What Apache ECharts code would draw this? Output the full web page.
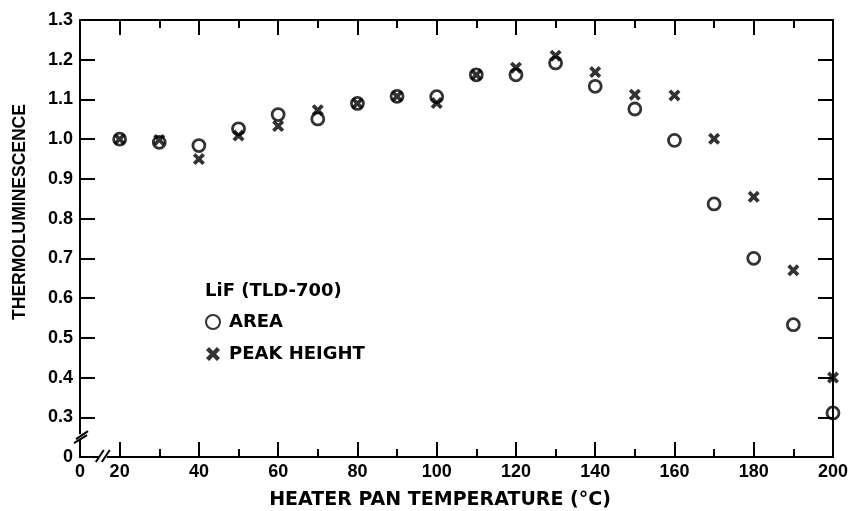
<!DOCTYPE html>
<html><head><meta charset="utf-8">
<script src="https://cdn.jsdelivr.net/npm/echarts@6/dist/echarts.min.js"></script>
<style>html,body{margin:0;padding:0;background:#fff}#c{width:851px;height:511px}</style>
</head><body><div id="c"></div>
<script>
// ---- data ----
const temps = [20, 30, 40, 50, 60, 70, 80, 90, 100, 110, 120, 130, 140, 150, 160, 170, 180, 190, 200];
const areaValues = [1.00, 0.992, 0.984, 1.026, 1.062, 1.051, 1.09, 1.108, 1.107, 1.162, 1.162, 1.192, 1.133, 1.076, 0.997, 0.837, 0.70, 0.533, 0.311];
const peakValues = [1.00, 0.998, 0.95, 1.009, 1.033, 1.073, 1.09, 1.108, 1.091, 1.162, 1.18, 1.21, 1.169, 1.112, 1.110, 1.001, 0.855, 0.670, 0.40];
// broken axes: value 10 on x and 0.2 on y stand for the "0" origin
const xLabelValues = [10, 20, 40, 60, 80, 100, 120, 140, 160, 180, 200];
const xMajorTicks = [20, 40, 60, 80, 100, 120, 140, 160, 180];
const xMinorTicks = [30, 50, 70, 90, 110, 130, 150, 170, 190];
const yLabelValues = [0.2, 0.3, 0.4, 0.5, 0.6, 0.7, 0.8, 0.9, 1.0, 1.1, 1.2, 1.3];
const yTickValues = [0.3, 0.4, 0.5, 0.6, 0.7, 0.8, 0.9, 1.0, 1.1, 1.2];
const seriesNames = ['AREA', 'PEAK HEIGHT'];
const legendHeader = 'LiF (TLD-700)';
const xTitle = 'HEATER PAN TEMPERATURE (°C)';
const yTitle = 'THERMOLUMINESCENCE';

const X_MIN = 10, X_MAX = 200, Y_MIN = 0.2, Y_MAX = 1.3;
const black = '#000';
const lblFont = { color: black, fontFamily: '"Liberation Sans", Arial, sans-serif', fontWeight: 'bold', fontSize: 18 };

function xAx(pos, ticks, len, showLine, showLabel) {
  return {
    type: 'value', position: pos, min: X_MIN, max: X_MAX, interval: 10,
    axisLine: { show: showLine, onZero: false, lineStyle: { color: black, width: 2 } },
    axisTick: { show: true, inside: true, length: len, customValues: ticks, lineStyle: { color: black, width: 2 } },
    axisLabel: showLabel ? Object.assign({ show: true, margin: 6, customValues: xLabelValues,
      formatter: v => (v === 10 ? '0' : String(v)) }, lblFont) : { show: false },
    splitLine: { show: false }
  };
}
function yAx(pos, showLabel) {
  return {
    type: 'value', position: pos, min: Y_MIN, max: Y_MAX, interval: 0.1,
    axisLine: { show: true, onZero: false, lineStyle: { color: black, width: 2 } },
    axisTick: { show: true, inside: true, length: 15, customValues: yTickValues, lineStyle: { color: black, width: 2 } },
    axisLabel: showLabel ? Object.assign({ show: true, margin: 7, customValues: yLabelValues,
      formatter: v => (v < 0.25 ? '0' : v.toFixed(1)) }, lblFont) : { show: false },
    splitLine: { show: false }
  };
}

const crossPath = 'path://M0,2.2L2.2,0L5,2.8L7.8,0L10,2.2L7.2,5L10,7.8L7.8,10L5,7.2L2.2,10L0,7.8L2.8,5Z';

const chart = echarts.init(document.getElementById('c'), null, { renderer: 'canvas' });
chart.setOption({
  backgroundColor: '#fff',
  animation: false,
  grid: { left: 80, right: 15, top: 20, bottom: 54, containLabel: false },
  title: {
    text: legendHeader, left: 205, top: 282, padding: 0,
    textStyle: { color: black, fontFamily: '"DejaVu Sans", sans-serif', fontWeight: 'bold', fontSize: 18 }
  },
  legend: {
    orient: 'vertical', left: 205, top: 313, padding: 0, itemWidth: 14, itemHeight: 14, itemGap: 14,
    data: seriesNames,
    textStyle: { color: black, fontFamily: '"DejaVu Sans", sans-serif', fontWeight: 'bold', fontSize: 18, padding: [0, 0, 0, 4] }
  },
  xAxis: [
    xAx('bottom', xMajorTicks, 15, true, true),
    xAx('bottom', xMinorTicks, 8, false, false),
    xAx('top', xMajorTicks, 15, true, false),
    xAx('top', xMinorTicks, 8, false, false)
  ],
  yAxis: [yAx('left', true), yAx('right', false)],
  series: [
    {
      name: seriesNames[0], type: 'scatter', xAxisIndex: 0, yAxisIndex: 0,
      symbol: 'circle', symbolSize: 12, z: 3,
      itemStyle: { color: 'rgba(255,255,255,0)', borderColor: black, borderWidth: 2.8 },
      data: temps.map((t, i) => [t, areaValues[i]])
    },
    {
      name: seriesNames[1], type: 'scatter', xAxisIndex: 0, yAxisIndex: 0,
      symbol: crossPath, symbolSize: 12, z: 4,
      itemStyle: { color: black },
      data: temps.map((t, i) => [t, peakValues[i]])
    }
  ]
});

// break marks and axis titles
const xb = chart.convertToPixel({ gridIndex: 0 }, [15.75, Y_MIN]);
const yb = chart.convertToPixel({ gridIndex: 0 }, [X_MIN, 0.25]);
const ls = { stroke: black, lineWidth: 2 };
chart.setOption({
  graphic: [
    { type: 'rect', z: 100, shape: { x: xb[0] - 4, y: xb[1] - 3, width: 8, height: 6 }, style: { fill: '#fff' } },
    { type: 'line', z: 101, shape: { x1: xb[0] - 7, y1: xb[1] + 5, x2: xb[0] + 1, y2: xb[1] - 7 }, style: ls },
    { type: 'line', z: 101, shape: { x1: xb[0] - 1, y1: xb[1] + 5, x2: xb[0] + 7, y2: xb[1] - 7 }, style: ls },
    { type: 'rect', z: 100, shape: { x: yb[0] - 3, y: yb[1] - 3, width: 6, height: 6 }, style: { fill: '#fff' } },
    { type: 'line', z: 101, shape: { x1: yb[0] - 6, y1: yb[1] + 6, x2: yb[0] + 7, y2: yb[1] - 2 }, style: ls },
    { type: 'line', z: 101, shape: { x1: yb[0] - 4, y1: yb[1] + 2, x2: yb[0] + 8, y2: yb[1] - 6 }, style: ls },
    { type: 'text', z: 100, x: 440, y: 500,
      style: { text: xTitle, fill: black, font: 'bold 19px "DejaVu Sans", sans-serif', align: 'center', verticalAlign: 'middle' } },
    { type: 'text', z: 100, x: 20, y: 212, rotation: Math.PI / 2,
      style: { text: yTitle, fill: black, font: 'bold 17.5px "Liberation Sans", Arial, sans-serif', align: 'center', verticalAlign: 'middle' } }
  ]
});
</script>
</body></html>
